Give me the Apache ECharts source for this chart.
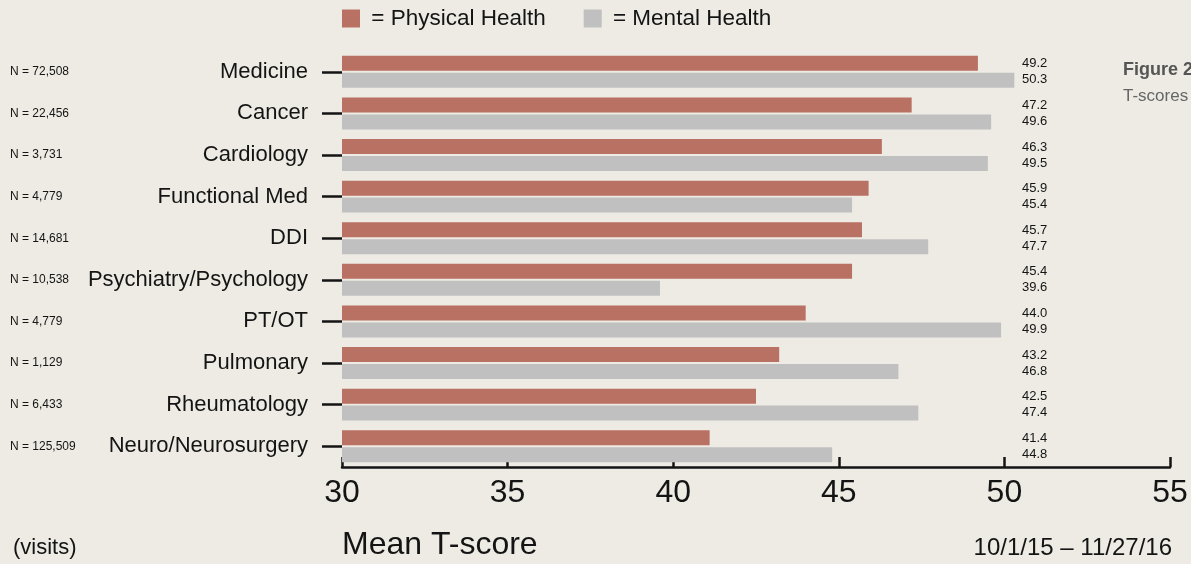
<!DOCTYPE html>
<html>
<head>
<meta charset="utf-8">
<style>
  html, body { margin: 0; padding: 0; background: #EDEBE3; }
  #chart { width: 1191px; height: 564px; }
</style>
<script src="https://cdn.jsdelivr.net/npm/echarts@6/dist/echarts.min.js"></script>
</head>
<body>
<div id="chart"></div>
<script>
// ---- Data ----
const categories = ['Medicine', 'Cancer', 'Cardiology', 'Functional Med', 'DDI',
  'Psychiatry/Psychology', 'PT/OT', 'Pulmonary', 'Rheumatology', 'Neuro/Neurosurgery'];
const visits = ['72,508', '22,456', '3,731', '4,779', '14,681', '10,538', '4,779', '1,129', '6,433', '125,509'];
// bar lengths as drawn
const physical = [49.2, 47.2, 46.3, 45.9, 45.7, 45.4, 44.0, 43.2, 42.5, 41.1];
const mental = [50.3, 49.6, 49.5, 45.4, 47.7, 39.6, 49.9, 46.8, 47.4, 44.8];
// values as printed at the right
const physicalPrinted = ['49.2', '47.2', '46.3', '45.9', '45.7', '45.4', '44.0', '43.2', '42.5', '41.4'];
const mentalPrinted = ['50.3', '49.6', '49.5', '45.4', '47.7', '39.6', '49.9', '46.8', '47.4', '44.8'];
const xTicks = { min: 30, max: 55, interval: 5 };

const FONT = '"Liberation Sans", Arial, sans-serif';
const INK = '#141414';

const chart = echarts.init(document.getElementById('chart'), null, { renderer: 'canvas' });
chart.setOption({
  backgroundColor: '#EDEBE3',
  animation: false,
  textStyle: { fontFamily: FONT, color: INK },
  legend: {
    top: 2, left: 337,
    itemWidth: 18, itemHeight: 18, itemGap: 38,
    icon: 'rect',
    textStyle: { fontSize: 22.5, color: INK, fontFamily: FONT },
    formatter: n => ' = ' + n,
    data: ['Physical Health', 'Mental Health']
  },
  grid: { left: 342, right: 21, top: 51, bottom: 97, outerBoundsMode: 'none', containLabel: false },
  xAxis: {
    type: 'value', min: xTicks.min, max: xTicks.max, interval: xTicks.interval,
    axisLine: { show: true, lineStyle: { color: INK, width: 2.5 } },
    axisTick: { show: true, inside: true, length: 10, lineStyle: { color: INK, width: 2.5 } },
    splitLine: { show: false },
    axisLabel: { fontSize: 32, color: INK, margin: 10, fontFamily: FONT }
  },
  yAxis: [
    {
      type: 'category', inverse: true, data: categories,
      axisLine: { show: false },
      axisTick: { show: true, alignWithLabel: true, length: 20, lineStyle: { color: INK, width: 2.5 } },
      axisLabel: { fontSize: 22, color: INK, margin: 34, fontFamily: FONT }
    },
    {
      type: 'category', inverse: true, data: categories, position: 'right', offset: -148,
      axisLine: { show: false }, axisTick: { show: false },
      axisLabel: {
        margin: 0, fontSize: 13, lineHeight: 16, color: INK, fontFamily: FONT,
        formatter: (v, i) => physicalPrinted[i] + '\n' + mentalPrinted[i]
      }
    },
    {
      type: 'category', inverse: true, data: categories, position: 'left', offset: 332,
      axisLine: { show: false }, axisTick: { show: false },
      axisLabel: {
        margin: 0, align: 'left', fontSize: 12, color: INK, fontFamily: FONT,
        formatter: (v, i) => 'N = ' + visits[i]
      }
    }
  ],
  series: [
    {
      name: 'Physical Health', type: 'bar', data: physical, barWidth: 15, barGap: '13%',
      itemStyle: { color: '#B87162' }
    },
    {
      name: 'Mental Health', type: 'bar', data: mental, barWidth: 15, barGap: '13%',
      itemStyle: { color: '#C0C0C0' }
    }
  ],
  graphic: [
    { type: 'text', left: 342, top: 529, style: { text: 'Mean T-score', font: '32px ' + FONT, fill: INK } },
    { type: 'text', left: 13, top: 537, style: { text: '(visits)', font: '22px ' + FONT, fill: INK } },
    { type: 'text', right: 19, top: 536, style: { text: '10/1/15 – 11/27/16', font: '24px ' + FONT, fill: INK } },
    { type: 'text', left: 1123, top: 61, style: { text: 'Figure 2', font: 'bold 18px ' + FONT, fill: '#555' } },
    { type: 'text', left: 1123, top: 88, style: { text: 'T-scores', font: '17px ' + FONT, fill: '#666' } }
  ]
});
</script>
</body>
</html>
